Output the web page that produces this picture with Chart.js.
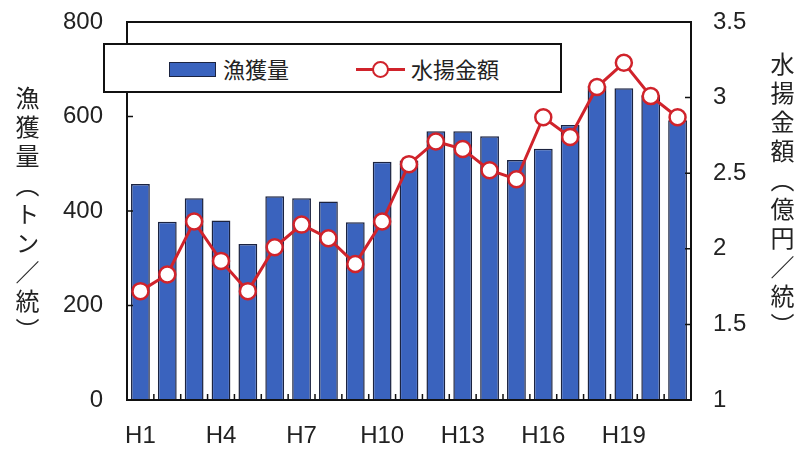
<!DOCTYPE html>
<html lang="ja">
<head>
<meta charset="utf-8">
<script src="https://cdn.jsdelivr.net/npm/chart.js@4/dist/chart.umd.min.js"></script>
<style>
  body { margin: 0; background: #fff; }
  #wrap { position: relative; width: 808px; height: 449px; }
  canvas { position: absolute; left: 0; top: 0; }
  .vtitle {
    position: absolute;
    writing-mode: vertical-rl;
    font-family: 'Noto Sans CJK JP', sans-serif;
    font-size: 24px;
    letter-spacing: 5px;
    color: #222;
    line-height: 1;
  }
  #legendBox {
    position: absolute;
    left: 103px; top: 43px; width: 459px; height: 50px;
    box-sizing: border-box;
    border: 2px solid #111;
    background: #fff;
    font-family: 'Noto Sans CJK JP', sans-serif;
    font-size: 22px;
    color: #222;
  }
  .item { position: absolute; top: 9px; line-height: 28px; }
  .swatchBar {
    position: absolute; left: 64px; top: 17px; width: 45px; height: 13px;
    background: #3a63be; border: 1.5px solid #1b2340;
  }
  .swatchLine {
    position: absolute; left: 251px; top: 23px; width: 49px; height: 3px; background: #d0232b;
  }
  .swatchDot {
    position: absolute; left: 267px; top: 16px; width: 13px; height: 13px;
    border: 2px solid #d0232b; border-radius: 50%; background: #fff;
  }
</style>
</head>
<body>
<div id="wrap">
  <canvas id="chart" width="808" height="449"></canvas>
  <div class="vtitle" style="left:15px; top:86px;">漁獲量（トン／統）</div>
  <div class="vtitle" style="left:770px; top:52px;">水揚金額（億円／統）</div>
  <div id="legendBox">
    <div class="swatchBar"></div>
    <div class="item" style="left:118px;">漁獲量</div>
    <div class="swatchLine"></div>
    <div class="swatchDot"></div>
    <div class="item" style="left:306px;">水揚金額</div>
  </div>
</div>
<script>
// 平成元年〜21年
const years = ['H1', 'H2', 'H3', 'H4', 'H5', 'H6', 'H7', 'H8', 'H9', 'H10', 'H11',
  'H12', 'H13', 'H14', 'H15', 'H16', 'H17', 'H18', 'H19', 'H20', 'H21'];

// 漁獲量（トン／統）
const catchTons = [457, 377, 427, 380, 330, 431, 427, 420, 376, 504, 507,
  569, 569, 558, 508, 532, 582, 665, 660, 645, 592];

// 水揚金額（億円／統）
const landingValue = [1.72, 1.83, 2.18, 1.92, 1.72, 2.01, 2.16, 2.07, 1.90, 2.18, 2.56,
  2.71, 2.66, 2.52, 2.46, 2.87, 2.74, 3.07, 3.23, 3.01, 2.87];

const leftTicks = [0, 200, 400, 600, 800];
const rightTicks = [1, 1.5, 2, 2.5, 3, 3.5];

const tickFont = { family: "'Liberation Sans', Arial, sans-serif", size: 24 };

// plot frame plus the short inward tick marks
const framePlugin = {
  id: 'frame',
  afterDatasetsDraw(chart) {
    const { ctx, chartArea: a, scales } = chart;
    ctx.save();
    ctx.strokeStyle = '#111';
    ctx.lineWidth = 2;
    ctx.strokeRect(a.left, a.top, a.right - a.left, a.bottom - a.top);

    ctx.lineWidth = 1.5;
    ctx.beginPath();
    for (let i = 1; i < years.length; i++) {
      const x = (scales.x.getPixelForValue(i - 1) + scales.x.getPixelForValue(i)) / 2;
      ctx.moveTo(x, a.bottom);
      ctx.lineTo(x, a.bottom - 6);
    }
    leftTicks.slice(1, -1).forEach(v => {
      const y = scales.y.getPixelForValue(v);
      ctx.moveTo(a.left, y);
      ctx.lineTo(a.left + 6, y);
    });
    rightTicks.slice(1, -1).forEach(v => {
      const y = scales.y1.getPixelForValue(v);
      ctx.moveTo(a.right, y);
      ctx.lineTo(a.right - 6, y);
    });
    ctx.stroke();
    ctx.restore();
  }
};

// fixed axis widths, no extra room for the end labels
const fitSide = w => s => {
  s.width = w;
  s.paddingTop = 0;
  s.paddingBottom = 0;
};

new Chart(document.getElementById('chart'), {
  data: {
    labels: years,
    datasets: [
      {
        type: 'line',
        label: '水揚金額',
        data: landingValue,
        yAxisID: 'y1',
        borderColor: '#d0232b',
        borderWidth: 3,
        pointRadius: 8,
        pointBackgroundColor: '#fff',
        pointBorderColor: '#d0232b',
        pointBorderWidth: 2.5,
        tension: 0,
        order: 1,
      },
      {
        type: 'bar',
        label: '漁獲量',
        data: catchTons,
        yAxisID: 'y',
        backgroundColor: '#3a63be',
        borderColor: '#1b2340',
        borderWidth: 1.5,
        barPercentage: 0.7,
        categoryPercentage: 1,
        order: 2,
      },
    ],
  },
  options: {
    responsive: false,
    animation: false,
    layout: { padding: { top: 22, left: 0, right: 0, bottom: 0 } },
    plugins: {
      legend: { display: false },
      tooltip: { enabled: false },
    },
    scales: {
      x: {
        grid: { display: false, drawTicks: false },
        border: { display: false },
        ticks: {
          font: tickFont,
          color: '#222',
          maxRotation: 0,
          autoSkip: false,
          padding: 22,
          callback: (v, i) => (i % 3 === 0 ? years[i] : ''),
        },
        afterFit: s => { s.height = 49; s.paddingLeft = 0; s.paddingRight = 0; },
      },
      y: {
        position: 'left',
        min: 0,
        max: 800,
        grid: { display: false, drawTicks: false },
        border: { display: false },
        ticks: { font: tickFont, color: '#222', stepSize: 200, padding: 24 },
        afterFit: fitSide(127),
      },
      y1: {
        position: 'right',
        min: 1,
        max: 3.5,
        grid: { display: false, drawTicks: false },
        border: { display: false },
        ticks: { font: tickFont, color: '#222', stepSize: 0.5, padding: 22, callback: v => String(v) },
        afterFit: fitSide(117),
      },
    },
  },
  plugins: [framePlugin],
});
</script>
</body>
</html>
